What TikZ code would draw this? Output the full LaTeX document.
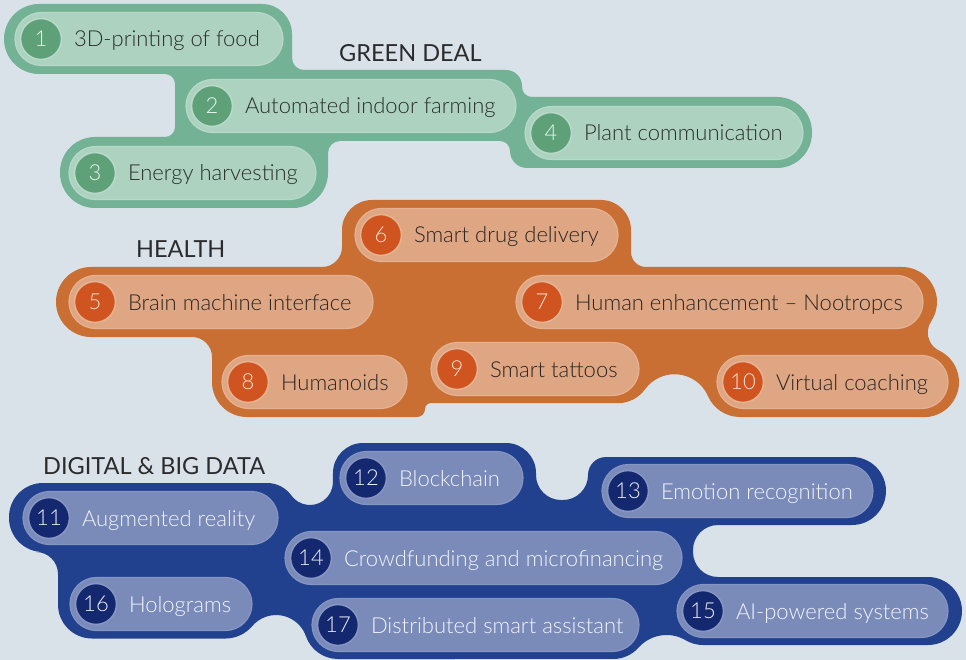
\documentclass[tikz,border=0pt]{standalone}
\usepackage{fontspec}
\setmainfont{Lato}
\newfontfamily\lightfont{Lato Light}
\usetikzlibrary{positioning}

% palette
\definecolor{bgc}{HTML}{D8E2E8}
\definecolor{gdark}{HTML}{74B296}
\definecolor{gin}{HTML}{ADD2C0}
\definecolor{grim}{HTML}{B6D9C8}
\definecolor{gdot}{HTML}{5EA179}
\definecolor{gnum}{HTML}{EAF4EE}
\definecolor{gtxt}{HTML}{2A2E2C}
\definecolor{odark}{HTML}{C96F34}
\definecolor{oin}{HTML}{DEA683}
\definecolor{orim}{HTML}{E5B292}
\definecolor{odot}{HTML}{D05420}
\definecolor{onum}{HTML}{F8E0D0}
\definecolor{otxt}{HTML}{2C2522}
\definecolor{bdark}{HTML}{21408E}
\definecolor{bin}{HTML}{7A8BBA}
\definecolor{brim}{HTML}{8695C2}
\definecolor{bdot}{HTML}{142870}
\definecolor{bnum}{HTML}{EEF0F8}
\definecolor{btxt}{HTML}{F2F4FA}
\definecolor{titlec}{HTML}{2B2B2D}

\tikzset{
  pill/.style={rectangle, rounded corners=26.5pt, minimum height=53pt, inner sep=0pt, line width=1.2pt},
  numdot/.style={circle, minimum size=41pt, inner sep=0pt, line width=1.6pt,
    font=\lightfont\fontsize{22}{24}\selectfont, text height=15pt, text depth=0pt},
  itemtext/.style={anchor=west, inner sep=0pt, text height=16pt, text depth=0pt,
    font=\lightfont\fontsize{22}{24}\selectfont},
  grouptitle/.style={anchor=base west, inner sep=0pt, text=titlec,
    font=\fontsize{23.5}{26}\selectfont},
}

% #1 id, #2 left, #3 right, #4 centre line, #5 number, #6 label, #7 colour set
\newcommand\blobitem[7]{%
  \node (p#1) [pill, fill=#7in, draw=#7rim, minimum width={#3-#2}] at ({(#2+#3)/2},#4) {};
  \node (c#1) [numdot, fill=#7dot, draw=#7rim, text=#7num] at ({#2+26},#4) {#5};
  \node (t#1) [itemtext, text=#7txt] at ([xshift=11.5pt]c#1.east) {#6};
}

\begin{document}
\begin{tikzpicture}[x=1pt,y=-1pt]
\fill[bgc] (0,0) rectangle (966,660);
\useasboundingbox (0,0) rectangle (966,660);

% ---------- green deal ----------
\fill[gdark] (150,4)
  [rounded corners=30pt] -- (292,4)
  [rounded corners=12pt] -- (292,70)
  [rounded corners=16pt] -- (522,70)
  [rounded corners=10pt] -- (522,97)
  [rounded corners=35pt] -- (812,97)
  [rounded corners=35pt] -- (812,168)
  [rounded corners=17pt] -- (510,168)
  [rounded corners=10pt] -- (510,141)
  [rounded corners=12pt] -- (328,141)
  [rounded corners=35pt] -- (328,208)
  [rounded corners=35pt] -- (60,208)
  [rounded corners=35pt] -- (60,137)
  [rounded corners=10pt] -- (175,137)
  [rounded corners=10pt] -- (175,74)
  [rounded corners=35pt] -- (4,74)
  [rounded corners=35pt] -- (4,4)
  [sharp corners] -- cycle;

\blobitem{1}{15}{283}{39}{1}{3D-printing of food}{g}
\blobitem{2}{186}{516}{106}{2}{Automated indoor farming}{g}
\blobitem{3}{69}{316}{173}{3}{Energy harvesting}{g}
\blobitem{4}{525}{803}{133}{4}{Plant communication}{g}
\node (tg) [grouptitle] at (339,62) {GREEN DEAL};

% ---------- health ----------
\fill[odark] (150,267)
  [rounded corners=20pt] -- (342,267)
  [rounded corners=30pt] -- (342,200)
  [rounded corners=30pt] -- (631,200)
  [rounded corners=15pt] -- (631,267)
  [sharp corners] -- (902,267)
  arc[start angle=-90, end angle=33.7, radius=35]
  arc[start angle=213.8, end angle=115.5, radius=20]
  arc[start angle=-64.4, end angle=90, radius=35]
  -- (740,417)
  arc[start angle=90, end angle=156.3, radius=35]
  arc[start angle=-23.7, end angle=-143.9, radius=36.5]
  arc[start angle=36, end angle=90, radius=34]
  [rounded corners=6pt] -- (425,403)
  [rounded corners=8pt] -- (425,417)
  [rounded corners=35pt] -- (212,417)
  [rounded corners=20pt] -- (212,337)
  [rounded corners=35pt] -- (56,337)
  [rounded corners=35pt] -- (56,267)
  [sharp corners] -- cycle;

\blobitem{5}{69}{373}{302}{5}{Brain machine interface}{o}
\blobitem{6}{355}{618}{235}{6}{Smart drug delivery}{o}
\blobitem{7}{516}{923}{302}{7}{Human enhancement – Nootropcs}{o}
\blobitem{8}{222}{407}{382}{8}{Humanoids}{o}
\blobitem{9}{431}{639}{369}{9}{Smart tattoos}{o}
\blobitem{10}{717}{948}{382}{10}{Virtual coaching}{o}
\node (th) [grouptitle] at (136,258) {HEALTH};

% ---------- digital & big data ----------
\fill[bdark] (150,483)
  [sharp corners] -- (267,483)
  arc[start angle=-90, end angle=-35.8, radius=30]
  arc[start angle=144.2, end angle=0, radius=23]
  [rounded corners=30pt] -- (333,443)
  [rounded corners=30pt] -- (536,443)
  [rounded corners=25pt] -- (536,500)
  [rounded corners=25pt] -- (588,500)
  [rounded corners=18pt] -- (588,457)
  [rounded corners=34pt] -- (886,457)
  [rounded corners=34pt] -- (886,525)
  [rounded corners=25pt] -- (693,525)
  [rounded corners=25pt] -- (693,577)
  [rounded corners=34pt] -- (962,577)
  [rounded corners=34pt] -- (962,645)
  [sharp corners] -- (703,645)
  arc[start angle=90, end angle=120.7, radius=34]
  arc[start angle=-59.3, end angle=-138.4, radius=37.4]
  arc[start angle=41.6, end angle=90, radius=34]
  -- (338,659)
  arc[start angle=90, end angle=160.8, radius=34]
  arc[start angle=-19.2, end angle=-139.7, radius=31.5]
  arc[start angle=40.3, end angle=90, radius=35]
  [rounded corners=34pt] -- (58,638.5)
  [rounded corners=22pt] -- (58,552)
  [rounded corners=34pt] -- (9,552)
  [rounded corners=34pt] -- (9,483)
  [sharp corners] -- cycle;

\blobitem{11}{23}{278}{518}{11}{Augmented reality}{b}
\blobitem{12}{340}{523}{478}{12}{Blockchain}{b}
\blobitem{13}{602}{873}{491}{13}{Emotion recognition}{b}
\blobitem{14}{285}{682}{558}{14}{Crowdfunding and microfinancing}{b}
\blobitem{15}{677}{948}{611}{15}{AI-powered systems}{b}
\blobitem{16}{70}{252}{604}{16}{Holograms}{b}
\blobitem{17}{312}{639}{625}{17}{Distributed smart assistant}{b}
\node (tb) [grouptitle] at (43,474) {DIGITAL \& BIG DATA};
\end{tikzpicture}
\end{document}
